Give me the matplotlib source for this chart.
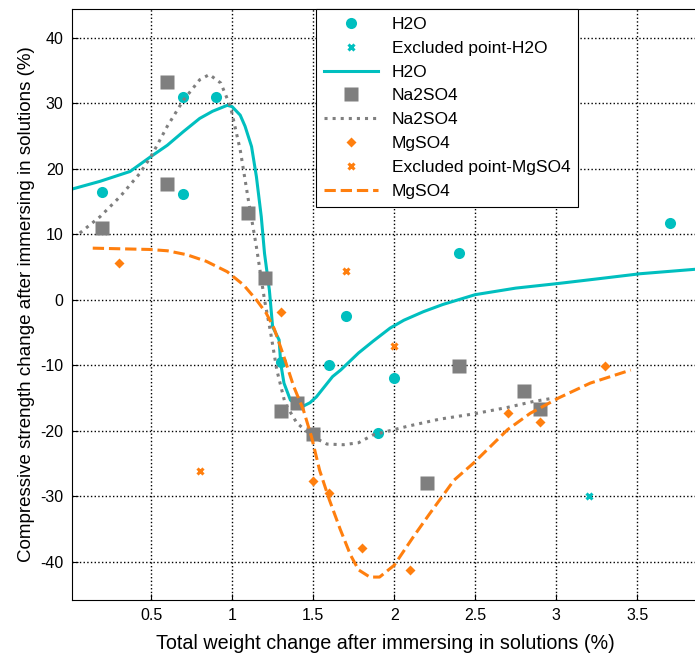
import matplotlib
matplotlib.use('Agg')
import matplotlib.pyplot as plt
from matplotlib.ticker import FormatStrFormatter

plt.rcParams['font.family'] = ['Liberation Sans', 'DejaVu Sans']
plt.rcParams['axes.unicode_minus'] = False

cyan = '#00bfbf'
gray = '#7f7f7f'
orange = '#ff7f0e'

# measured points
h2o_x = [0.2, 0.7, 0.9, 0.7, 1.7, 1.3, 1.6, 2.0, 1.9, 2.4, 3.7]
h2o_y = [16.4, 30.9, 31.0, 16.1, -2.5, -9.4, -10.0, -11.9, -20.3, 7.1, 11.8]
h2o_excl_x = [3.2]
h2o_excl_y = [-30.0]

na_x = [0.2, 0.6, 0.6, 1.1, 1.2, 1.3, 1.4, 1.5, 2.2, 2.4, 2.8, 2.9]
na_y = [11.0, 33.2, 17.7, 13.2, 3.3, -17.0, -15.8, -20.4, -28.0, -10.1, -13.9, -16.6]

mg_x = [0.3, 1.3, 1.5, 1.6, 1.8, 2.1, 2.7, 2.9, 3.3]
mg_y = [5.6, -1.9, -27.7, -29.4, -37.8, -41.2, -17.2, -18.7, -10.1]
mg_excl_x = [0.8, 1.7, 2.0]
mg_excl_y = [-26.1, 4.4, -7.1]

# fitted curves
h2o_fit_x = [0.01, 0.185, 0.37, 0.5, 0.6, 0.7, 0.8, 0.88, 0.94, 0.97, 1.0, 1.05, 1.08, 1.12,
             1.15, 1.18, 1.2, 1.23, 1.25, 1.29, 1.30, 1.32, 1.36, 1.40, 1.44, 1.48, 1.52,
             1.62, 1.67, 1.78, 1.87, 1.975, 2.06, 2.18, 2.3, 2.5, 2.75, 3.01, 3.25, 3.52, 3.87]
h2o_fit_y = [16.9, 18.1, 19.6, 21.9, 23.6, 25.7, 27.7, 28.8, 29.4, 29.7, 29.5, 28.2, 26.5, 23.4,
             18.8, 12.7, 7.1, 1.5, -4.1, -6.1, -9.7, -12.7, -15.3, -16.0, -16.2, -15.7, -14.8,
             -11.7, -10.7, -8.1, -6.3, -4.3, -3.1, -1.8, -0.7, 0.8, 1.8, 2.5, 3.2, 4.0, 4.7]

na_fit_x = [0.06, 0.185, 0.31, 0.43, 0.5, 0.6, 0.7, 0.8, 0.86, 0.93, 0.99, 1.05,
            1.1, 1.15, 1.2, 1.235, 1.276, 1.327, 1.4, 1.5, 1.585, 1.687, 1.78,
            1.87, 2.08, 2.28, 2.49, 2.7, 2.86, 2.98]
na_fit_y = [10.2, 12.7, 15.8, 19.3, 21.9, 26.5, 30.5, 33.6, 34.4, 33.1, 29.5, 22.9,
            15.3, 8.1, 0.0, -4.6, -10.7, -15.8, -18.8, -20.9, -22.0, -22.1, -21.8,
            -20.6, -19.3, -18.2, -17.4, -16.4, -15.5, -15.0]

mg_fit_x = [0.14, 0.49, 0.6, 0.72, 0.84, 0.97, 1.07, 1.15, 1.21, 1.26, 1.32, 1.38,
            1.44, 1.49, 1.54, 1.6, 1.667, 1.73, 1.78, 1.85, 1.91, 2.0, 2.12, 2.22,
            2.37, 2.49, 2.7, 2.84, 3.02, 3.21, 3.46]
mg_fit_y = [7.9, 7.7, 7.5, 6.9, 5.9, 4.3, 2.3, 0.0, -2.0, -4.4, -8.7, -13.2,
            -16.8, -20.9, -26.0, -30.5, -35.0, -38.9, -41.2, -42.3, -42.3, -40.5, -36.1, -32.6,
            -27.5, -24.9, -19.8, -17.3, -14.9, -12.7, -10.7]

fig = plt.figure(figsize=(6.95, 6.55), dpi=100)
ax = fig.add_axes([72 / 695, 55 / 655, 626 / 695, 591 / 655])

ax.plot(h2o_x, h2o_y, 'o', color=cyan, ms=8, mec='none', label='H2O')
ax.plot(h2o_excl_x, h2o_excl_y, 'x', color=cyan, ms=5, mew=2.2, label='Excluded point-H2O')
ax.plot(h2o_fit_x, h2o_fit_y, '-', color=cyan, lw=2.2, label='H2O')
ax.plot(na_x, na_y, 's', color=gray, ms=10, mec='none', label='Na2SO4')
ax.plot(na_fit_x, na_fit_y, ':', color=gray, lw=2.2, label='Na2SO4')
ax.plot(mg_x, mg_y, 'D', color=orange, ms=5.5, mec='none', label='MgSO4')
ax.plot(mg_excl_x, mg_excl_y, 'x', color=orange, ms=5, mew=2.2, label='Excluded point-MgSO4')
ax.plot(mg_fit_x, mg_fit_y, '--', color=orange, lw=2.2, label='MgSO4')

ax.set_xlim(0.012, 3.875)
ax.set_ylim(-45.8, 44.4)
ax.set_xticks([0.5, 1, 1.5, 2, 2.5, 3, 3.5])
ax.set_yticks([-40, -30, -20, -10, 0, 10, 20, 30, 40])
ax.xaxis.set_major_formatter(FormatStrFormatter('%g'))
ax.tick_params(direction='in', labelsize=11.5, length=4, pad=6)
ax.grid(True, color='black', linestyle=':', linewidth=1.0)

ax.set_xlabel('Total weight change after immersing in solutions (%)', fontsize=14.2, labelpad=8)
ax.set_ylabel('Compressive strength change after immersing in solutions (%)', fontsize=13.5)

leg = ax.legend(loc='upper left', bbox_to_anchor=(0.39, 1.0), borderaxespad=0,
                fontsize=12.5, handlelength=3.1, labelspacing=0.5, fancybox=False,
                framealpha=1, edgecolor='black', borderpad=0.45)
leg.get_frame().set_linewidth(0.8)

fig.savefig('out.png', dpi=100)
